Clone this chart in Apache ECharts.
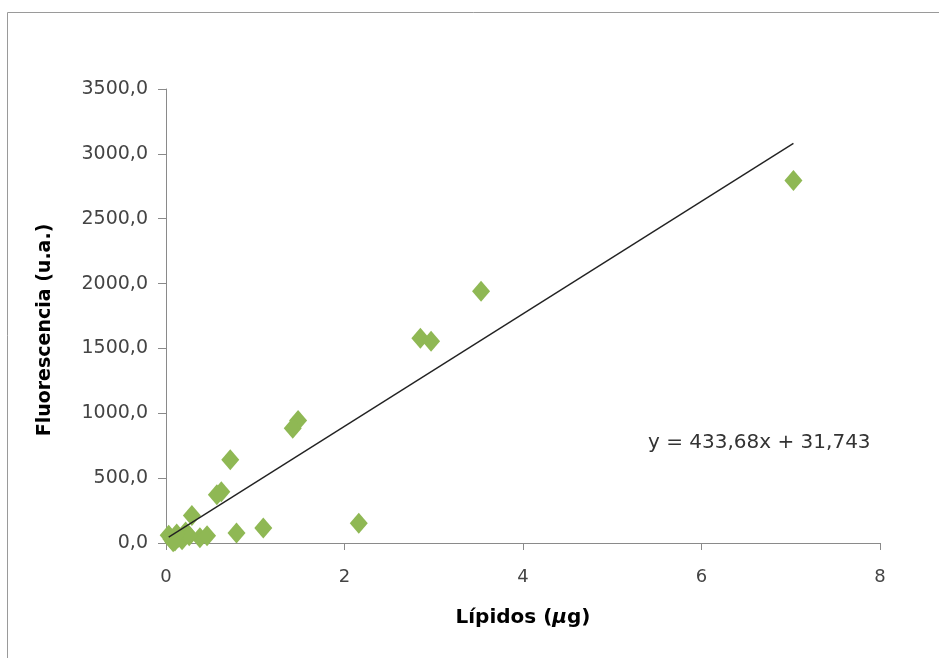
<!DOCTYPE html>
<html>
<head>
<meta charset="utf-8">
<script src="https://cdn.jsdelivr.net/npm/echarts@6/dist/echarts.min.js"></script>
<style>
html,body{margin:0;padding:0;background:#fff;}
#c{width:939px;height:658px;}
</style>
</head>
<body>
<div id="c"></div>
<script>
// Data
var lipidos = [7.03, 3.53, 2.85, 2.97, 1.48, 1.42, 0.72, 0.62, 0.57, 0.29, 2.16, 1.09, 0.79, 0.38, 0.46, 0.03, 0.06, 0.10, 0.14, 0.18, 0.22, 0.26, 0.12, 0.08];
var fluorescencia = [2795, 1940, 1578, 1556, 945, 885, 642, 395, 372, 212, 152, 115, 78, 40, 55, 60, 30, 15, 45, 25, 85, 55, 70, 10];
var slope = 433.68;
var intercept = 31.743;
var equationText = 'y = 433,68x + 31,743';
var xTitle = 'Lípidos';
var yTitle = 'Fluorescencia (u.a.)';

var points = lipidos.map(function (x, i) { return [x, fluorescencia[i]]; });
var xMin = Math.min.apply(null, lipidos);
var xMax = Math.max.apply(null, lipidos);
var trend = [[xMin, slope * xMin + intercept], [xMax, slope * xMax + intercept]];

var FONT = 'DejaVu Sans';
var chart = echarts.init(document.getElementById('c'), null, {renderer: 'canvas'});
chart.setOption({
  backgroundColor: '#ffffff',
  animation: false,
  grid: {left: 166, right: 59, top: 89, bottom: 115},
  xAxis: {
    type: 'value', min: 0, max: 8, interval: 2,
    name: xTitle + ' ({i|µ}g)',
    nameLocation: 'middle', nameGap: 65,
    nameTextStyle: {
      fontFamily: FONT, fontSize: 20, fontWeight: 'bold', color: '#000',
      rich: {i: {fontFamily: FONT, fontSize: 20, fontWeight: 'bold', fontStyle: 'italic', color: '#000'}}
    },
    axisLine: {show: true, lineStyle: {color: '#8a8a8a', width: 1}},
    axisTick: {show: true, inside: false, length: 7, lineStyle: {color: '#8a8a8a'}},
    axisLabel: {fontFamily: FONT, fontSize: 18, color: '#444', margin: 25},
    splitLine: {show: false}
  },
  yAxis: {
    type: 'value', min: 0, max: 3500, interval: 500,
    axisLine: {show: true, lineStyle: {color: '#8a8a8a', width: 1}},
    axisTick: {show: true, inside: false, length: 8, lineStyle: {color: '#8a8a8a'}},
    axisLabel: {
      fontFamily: FONT, fontSize: 19, color: '#444', margin: 18,
      formatter: function (v) { return v.toFixed(1).replace('.', ','); }
    },
    splitLine: {show: false}
  },
  series: [
    {
      type: 'line', data: trend, symbol: 'none', silent: true,
      lineStyle: {color: '#222', width: 1.4}, z: 3
    },
    {
      type: 'scatter', data: points, symbol: 'diamond', symbolSize: [18, 21],
      itemStyle: {color: '#8fb854', opacity: 1}, z: 2
    }
  ],
  graphic: [
    {type: 'line', shape: {x1: 7.5, y1: 12.5, x2: 939, y2: 12.5}, style: {stroke: '#9a9a9a', lineWidth: 1}},
    {type: 'line', shape: {x1: 7.5, y1: 12.5, x2: 7.5, y2: 658}, style: {stroke: '#9a9a9a', lineWidth: 1}},
    {type: 'text', x: 45, y: 330, rotation: Math.PI / 2,
     style: {text: yTitle, font: 'bold 19px "DejaVu Sans"', fill: '#000', textAlign: 'center', textVerticalAlign: 'middle'}},
    {type: 'text', left: 648, top: 433, style: {text: equationText, font: '20px "DejaVu Sans"', fill: '#333'}}
  ]
});
</script>
</body>
</html>
